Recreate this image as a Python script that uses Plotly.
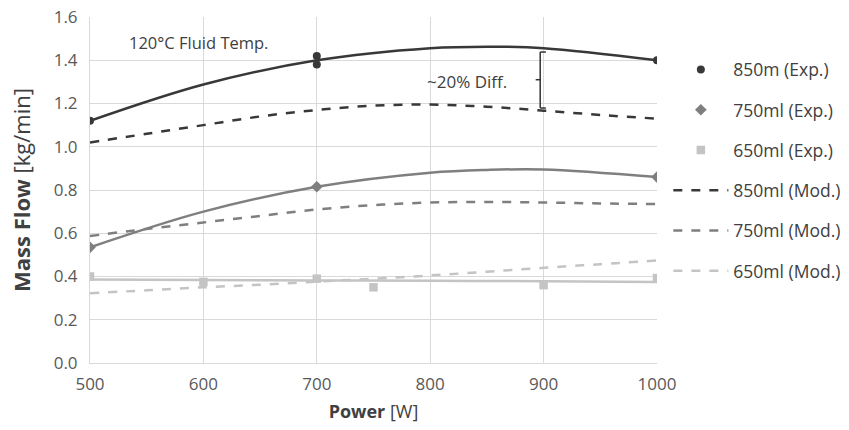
import plotly.graph_objects as go

# Experimental data
exp850_x = [500, 700, 700, 1000]
exp850_y = [1.12, 1.42, 1.38, 1.40]
exp750_x = [500, 700, 1000]
exp750_y = [0.535, 0.815, 0.86]
exp650_x = [500, 600, 700, 750, 900, 1000]
exp650_y = [0.40, 0.375, 0.39, 0.35, 0.36, 0.393]

# Trendlines
trend_x = [500, 600, 700, 800, 850, 900, 1000]
trend850_y = [1.12, 1.288, 1.40, 1.456, 1.463, 1.456, 1.40]
trend750_y = [0.535, 0.70, 0.815, 0.88, 0.893, 0.895, 0.86]
trend650_y = [0.386, 0.384, 0.382, 0.380, 0.379, 0.378, 0.375]

# Model curves
mod_x = [500, 550, 600, 650, 700, 750, 800, 850, 900, 950, 1000]
mod850_y = [1.02, 1.06, 1.10, 1.14, 1.17, 1.19, 1.195, 1.185, 1.167, 1.147, 1.13]
mod750_y = [0.587, 0.62, 0.65, 0.68, 0.71, 0.73, 0.742, 0.745, 0.742, 0.738, 0.735]
mod650_y = [0.323, 0.336, 0.35, 0.362, 0.376, 0.39, 0.405, 0.422, 0.44, 0.457, 0.474]

x_ticks = [500, 600, 700, 800, 900, 1000]
y_ticks = [0.0, 0.2, 0.4, 0.6, 0.8, 1.0, 1.2, 1.4, 1.6]

c850 = "#383838"
c750 = "#7f7f7f"
c650 = "#c4c4c4"

fig = go.Figure()

for ty, col in [(trend850_y, c850), (trend750_y, c750), (trend650_y, c650)]:
    fig.add_trace(go.Scatter(x=trend_x, y=ty, mode="lines", line=dict(color=col, width=2.5, shape="spline"),
                             showlegend=False, hoverinfo="skip"))

fig.add_trace(go.Scatter(x=exp850_x, y=exp850_y, mode="markers", name="850m (Exp.)",
                         marker=dict(symbol="circle", size=8, color=c850), legendgroup="a"))
fig.add_trace(go.Scatter(x=exp750_x, y=exp750_y, mode="markers", name="750ml (Exp.)",
                         marker=dict(symbol="diamond", size=9, color=c750), legendgroup="b"))
fig.add_trace(go.Scatter(x=exp650_x, y=exp650_y, mode="markers", name="650ml (Exp.)",
                         marker=dict(symbol="square", size=8.5, color=c650), legendgroup="c"))
fig.add_trace(go.Scatter(x=mod_x, y=mod850_y, mode="lines", name="850ml (Mod.)",
                         line=dict(color=c850, width=2.5, dash="dash", shape="spline"), legendgroup="d"))
fig.add_trace(go.Scatter(x=mod_x, y=mod750_y, mode="lines", name="750ml (Mod.)",
                         line=dict(color=c750, width=2.5, dash="dash", shape="spline"), legendgroup="e"))
fig.add_trace(go.Scatter(x=mod_x, y=mod650_y, mode="lines", name="650ml (Mod.)",
                         line=dict(color=c650, width=2.5, dash="dash", shape="spline"), legendgroup="f"))

# Bracket "~20% Diff."
bx = 897
btop, bbot, bmid = 1.438, 1.179, 1.31
for x0, y0, x1, y1 in [(bx, btop, bx + 5, btop), (bx, btop, bx, bbot), (bx, bbot, bx + 5, bbot), (bx - 4, bmid, bx, bmid)]:
    fig.add_shape(type="line", x0=x0, y0=y0, x1=x1, y1=y1, line=dict(color="#333333", width=1.5))

fig.add_annotation(x=533, y=1.48, text="120°C Fluid Temp.", showarrow=False,
                   font=dict(size=16.5, color="#404040"), xanchor="left")
fig.add_annotation(x=795, y=1.30, text="~20% Diff.", showarrow=False,
                   font=dict(size=17, color="#404040"), xanchor="left")

fig.update_layout(
    width=849, height=430,
    margin=dict(l=90, r=192, t=17, b=67, autoexpand=False),
    paper_bgcolor="white", plot_bgcolor="white",
    font=dict(family="Open Sans, sans-serif", size=17, color="#595959"),
    legend=dict(x=1.02, y=0.9, xanchor="left", yanchor="top", tracegroupgap=14.5, itemwidth=55,
                font=dict(size=17.5, color="#404040"), traceorder="grouped"),
    showlegend=True,
)
fig.update_xaxes(range=[500, 1000], tickvals=x_ticks, showgrid=True, gridcolor="#d9d9d9", gridwidth=1,
                 zeroline=False, showline=True, linecolor="#d9d9d9", ticks="", automargin=False,
                 ticklabelstandoff=6, ticklabeloverflow="allow",
                 title=dict(text="<b>Power</b> [W]", font=dict(size=18, color="#404040"), standoff=10))
fig.update_yaxes(range=[0, 1.6], tickvals=y_ticks, tickformat=".1f", showgrid=True, gridcolor="#d9d9d9",
                 gridwidth=1, zeroline=False, showline=True, linecolor="#d9d9d9", ticks="", automargin=False,
                 ticklabelstandoff=8, ticklabeloverflow="allow",
                 title=dict(text="<b>Mass Flow</b> [kg/min]", font=dict(size=22, color="#404040"), standoff=16))

# remove the default 8px page margin so the figure fills the window exactly
fig.write_html("out.html", config={"displayModeBar": False},
               post_script="document.body.style.margin='0';")
